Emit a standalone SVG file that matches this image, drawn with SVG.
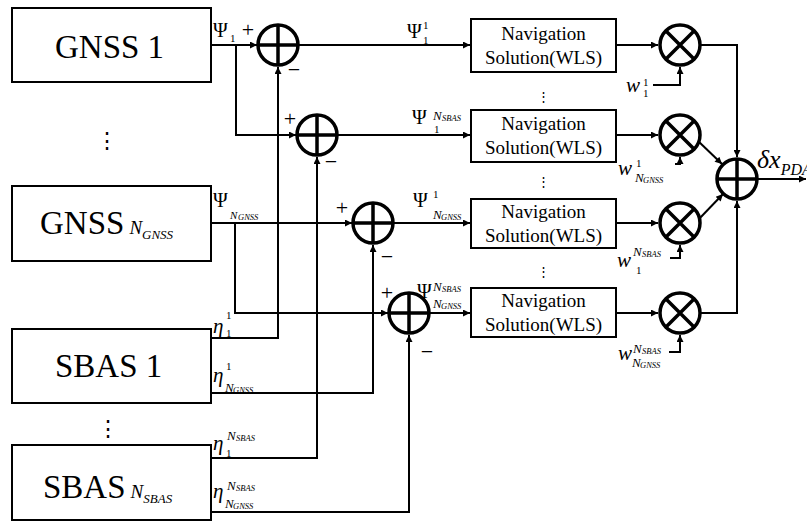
<svg xmlns="http://www.w3.org/2000/svg" width="807" height="522" viewBox="0 0 807 522">
<defs>
<marker id="ar" viewBox="0 0 10 10" refX="10" refY="5" markerWidth="9" markerHeight="7" markerUnits="userSpaceOnUse" orient="auto"><path d="M0,0 L10,5 L0,10 z" fill="#000"/></marker>
</defs>
<rect width="807" height="522" fill="#fff"/>

<g id="connectors" fill="none" stroke="#000" stroke-width="2" marker-end="url(#ar)">
<path d="M211,45H257"/>
<path d="M236,45V135H296"/>
<path d="M298,45H470"/>
<path d="M337,135H470"/>
<path d="M211,223H352"/>
<path d="M235,223V313H388"/>
<path d="M393,223H470"/>
<path d="M429,313H470"/>
<path d="M211,338H278V67"/>
<path d="M211,393H373V245"/>
<path d="M211,458H317V157"/>
<path d="M211,512H409V335"/>
<path d="M616,45H658"/>
<path d="M616,135H658"/>
<path d="M616,223H658"/>
<path d="M616,313H658"/>
<path d="M653,85H680V67"/>
<path d="M675,164H680V157"/>
<path d="M670,258H680V245"/>
<path d="M669,352H680V335"/>
<path d="M700,45H737V157"/>
<path d="M700,313H737V201"/>
<path d="M697,140L722,164"/>
<path d="M699,219L723,194"/>
<path d="M758,179H806"/>
</g>

<g fill="#fff" stroke="#000" stroke-width="2">
<rect id="gnss1-box" x="12" y="8" width="199" height="74"/>
<rect id="gnssN-box" x="12" y="186" width="199" height="75"/>
<rect id="sbas1-box" x="12" y="329" width="199" height="74"/>
<rect id="sbasN-box" x="12" y="445" width="199" height="75"/>
<rect id="nav1-box" x="471" y="19" width="145" height="53"/>
<rect id="nav2-box" x="471" y="110" width="145" height="52"/>
<rect id="nav3-box" x="471" y="199" width="145" height="49"/>
<rect id="nav4-box" x="471" y="288" width="145" height="49"/>
</g>

<g id="operators" fill="#fff" stroke="#000" stroke-width="3.5">
<g id="sum1"><circle cx="278" cy="45" r="20"/><path fill="none" d="M278,25V65M258,45H298"/></g>
<g id="sum2"><circle cx="317" cy="135" r="20"/><path fill="none" d="M317,115V155M297,135H337"/></g>
<g id="sum3"><circle cx="373" cy="223" r="20"/><path fill="none" d="M373,203V243M353,223H393"/></g>
<g id="sum4"><circle cx="409" cy="313" r="20"/><path fill="none" d="M409,293V333M389,313H429"/></g>
<g id="mult1"><circle cx="680" cy="45" r="20"/><path fill="none" d="M666,31L694,59M694,31L666,59"/></g>
<g id="mult2"><circle cx="680" cy="135" r="20"/><path fill="none" d="M666,121L694,149M694,121L666,149"/></g>
<g id="mult3"><circle cx="680" cy="223" r="20"/><path fill="none" d="M666,209L694,237M694,209L666,237"/></g>
<g id="mult4"><circle cx="680" cy="313" r="20"/><path fill="none" d="M666,299L694,327M694,299L666,327"/></g>
<g id="sumF"><circle cx="737" cy="179" r="20"/><path fill="none" d="M737,159V199M717,179H757"/></g>
</g>

<g id="box-texts" fill="#000">
<text font-family="Liberation Serif" font-size="33" x="55" y="58">GNSS 1</text>
<text font-family="Liberation Serif" font-size="33" x="40" y="234">GNSS<tspan font-size="19" font-style="italic" dx="5">N</tspan><tspan font-size="13" font-style="italic" dy="5">GNSS</tspan></text>
<text font-family="Liberation Serif" font-size="33" x="55" y="377">SBAS 1</text>
<text font-family="Liberation Serif" font-size="33" x="43" y="498">SBAS<tspan font-size="19" font-style="italic" dx="5">N</tspan><tspan font-size="13" font-style="italic" dy="5">SBAS</tspan></text>
<text font-family="Liberation Serif" font-size="19" text-anchor="middle" x="543.5" y="40">Navigation</text>
<text font-family="Liberation Serif" font-size="19" text-anchor="middle" x="543.5" y="64">Solution(WLS)</text>
<text font-family="Liberation Serif" font-size="19" text-anchor="middle" x="543.5" y="130">Navigation</text>
<text font-family="Liberation Serif" font-size="19" text-anchor="middle" x="543.5" y="154">Solution(WLS)</text>
<text font-family="Liberation Serif" font-size="19" text-anchor="middle" x="543.5" y="218">Navigation</text>
<text font-family="Liberation Serif" font-size="19" text-anchor="middle" x="543.5" y="242">Solution(WLS)</text>
<text font-family="Liberation Serif" font-size="19" text-anchor="middle" x="543.5" y="307">Navigation</text>
<text font-family="Liberation Serif" font-size="19" text-anchor="middle" x="543.5" y="331">Solution(WLS)</text>
</g>

<g id="dots" fill="#000" font-family="DejaVu Serif" text-anchor="middle">
<text font-family="DejaVu Serif" x="107" y="148" font-size="22">⋮</text>
<text font-family="DejaVu Serif" x="108" y="436" font-size="22">⋮</text>
<text font-family="DejaVu Serif" x="543" y="101" font-size="13">⋮</text>
<text font-family="DejaVu Serif" x="543" y="186" font-size="13">⋮</text>
<text font-family="DejaVu Serif" x="543" y="276" font-size="13">⋮</text>
</g>

<g id="signs" fill="#000" text-anchor="middle">
<text font-family="Liberation Serif" font-size="22" x="248" y="37">+</text>
<text font-family="Liberation Serif" font-size="22" x="290" y="126">+</text>
<text font-family="Liberation Serif" font-size="22" x="342" y="215">+</text>
<text font-family="Liberation Serif" font-size="22" x="387" y="300">+</text>
<text font-family="Liberation Serif" font-size="22" x="294" y="77">−</text>
<text font-family="Liberation Serif" font-size="22" x="331" y="169">−</text>
<text font-family="Liberation Serif" font-size="22" x="387" y="264">−</text>
<text font-family="Liberation Serif" font-size="22" x="427" y="359">−</text>
</g>

<g id="psi-labels" fill="#000">
<text font-family="Liberation Serif" font-size="20" x="213" y="37">Ψ</text><text font-family="Liberation Serif" font-size="11" x="230" y="42">1</text>
<text font-family="Liberation Serif" font-size="20" x="213" y="207">Ψ</text><text font-family="Liberation Serif" font-size="11" font-style="italic" x="230" y="219">N</text><text font-family="Liberation Serif" font-size="8.5" font-style="italic" x="238" y="220">GNSS</text>
<text font-family="Liberation Serif" font-size="20" x="407" y="38">Ψ</text><text font-family="Liberation Serif" font-size="11" x="423" y="29">1</text><text font-family="Liberation Serif" font-size="11" x="423" y="44">1</text>
<text font-family="Liberation Serif" font-size="20" x="412" y="124">Ψ</text><text font-family="Liberation Serif" font-size="13" font-style="italic" x="433" y="120">N</text><text font-family="Liberation Serif" font-size="8.5" font-style="italic" x="442" y="121">SBAS</text><text font-family="Liberation Serif" font-size="11" x="434" y="133">1</text>
<text font-family="Liberation Serif" font-size="20" x="413" y="207">Ψ</text><text font-family="Liberation Serif" font-size="11" x="433" y="198">1</text><text font-family="Liberation Serif" font-size="13" font-style="italic" x="433" y="219">N</text><text font-family="Liberation Serif" font-size="8.5" font-style="italic" x="441" y="220">GNSS</text>
<text font-family="Liberation Serif" font-size="20" x="417" y="298">Ψ</text><text font-family="Liberation Serif" font-size="13" font-style="italic" x="433" y="291">N</text><text font-family="Liberation Serif" font-size="8.5" font-style="italic" x="442" y="292">SBAS</text><text font-family="Liberation Serif" font-size="13" font-style="italic" x="433" y="308">N</text><text font-family="Liberation Serif" font-size="8.5" font-style="italic" x="441" y="309">GNSS</text>
</g>

<g id="eta-labels" fill="#000">
<text font-family="Liberation Serif" font-size="21" font-style="italic" x="213" y="333">η</text><text font-family="Liberation Serif" font-size="11" x="226" y="319">1</text><text font-family="Liberation Serif" font-size="11" x="226" y="337">1</text>
<text font-family="Liberation Serif" font-size="21" font-style="italic" x="213" y="382">η</text><text font-family="Liberation Serif" font-size="11" x="226" y="370">1</text><text font-family="Liberation Serif" font-size="13" font-style="italic" x="225" y="392">N</text><text font-family="Liberation Serif" font-size="8.5" font-style="italic" x="233" y="393">GNSS</text>
<text font-family="Liberation Serif" font-size="21" font-style="italic" x="213" y="450">η</text><text font-family="Liberation Serif" font-size="13" font-style="italic" x="227" y="440">N</text><text font-family="Liberation Serif" font-size="8.5" font-style="italic" x="236" y="441">SBAS</text><text font-family="Liberation Serif" font-size="11" x="226" y="457">1</text>
<text font-family="Liberation Serif" font-size="21" font-style="italic" x="213" y="498">η</text><text font-family="Liberation Serif" font-size="13" font-style="italic" x="227" y="490">N</text><text font-family="Liberation Serif" font-size="8.5" font-style="italic" x="236" y="491">SBAS</text><text font-family="Liberation Serif" font-size="13" font-style="italic" x="225" y="508">N</text><text font-family="Liberation Serif" font-size="8.5" font-style="italic" x="233" y="509">GNSS</text>
</g>

<g id="w-labels" fill="#000">
<text font-family="Liberation Serif" font-size="21" font-style="italic" x="626" y="92">w</text><text font-family="Liberation Serif" font-size="11" x="643" y="86">1</text><text font-family="Liberation Serif" font-size="11" x="643" y="97">1</text>
<text font-family="Liberation Serif" font-size="21" font-style="italic" x="618" y="175">w</text><text font-family="Liberation Serif" font-size="11" x="636" y="167">1</text><text font-family="Liberation Serif" font-size="13" font-style="italic" x="635" y="182">N</text><text font-family="Liberation Serif" font-size="8.5" font-style="italic" x="643" y="183">GNSS</text>
<text font-family="Liberation Serif" font-size="21" font-style="italic" x="617" y="267">w</text><text font-family="Liberation Serif" font-size="13" font-style="italic" x="633" y="256">N</text><text font-family="Liberation Serif" font-size="8.5" font-style="italic" x="642" y="257">SBAS</text><text font-family="Liberation Serif" font-size="11" x="636" y="274">1</text>
<text font-family="Liberation Serif" font-size="21" font-style="italic" x="618" y="360">w</text><text font-family="Liberation Serif" font-size="13" font-style="italic" x="633" y="353">N</text><text font-family="Liberation Serif" font-size="8.5" font-style="italic" x="642" y="354">SBAS</text><text font-family="Liberation Serif" font-size="13" font-style="italic" x="632" y="367">N</text><text font-family="Liberation Serif" font-size="8.5" font-style="italic" x="640" y="368">GNSS</text>
</g>

<g id="output-label" fill="#000"><text font-family="Liberation Serif" x="757" y="168" font-size="26" font-style="italic">δx<tspan font-size="16" dy="7">PDA</tspan></text></g>
</svg>
